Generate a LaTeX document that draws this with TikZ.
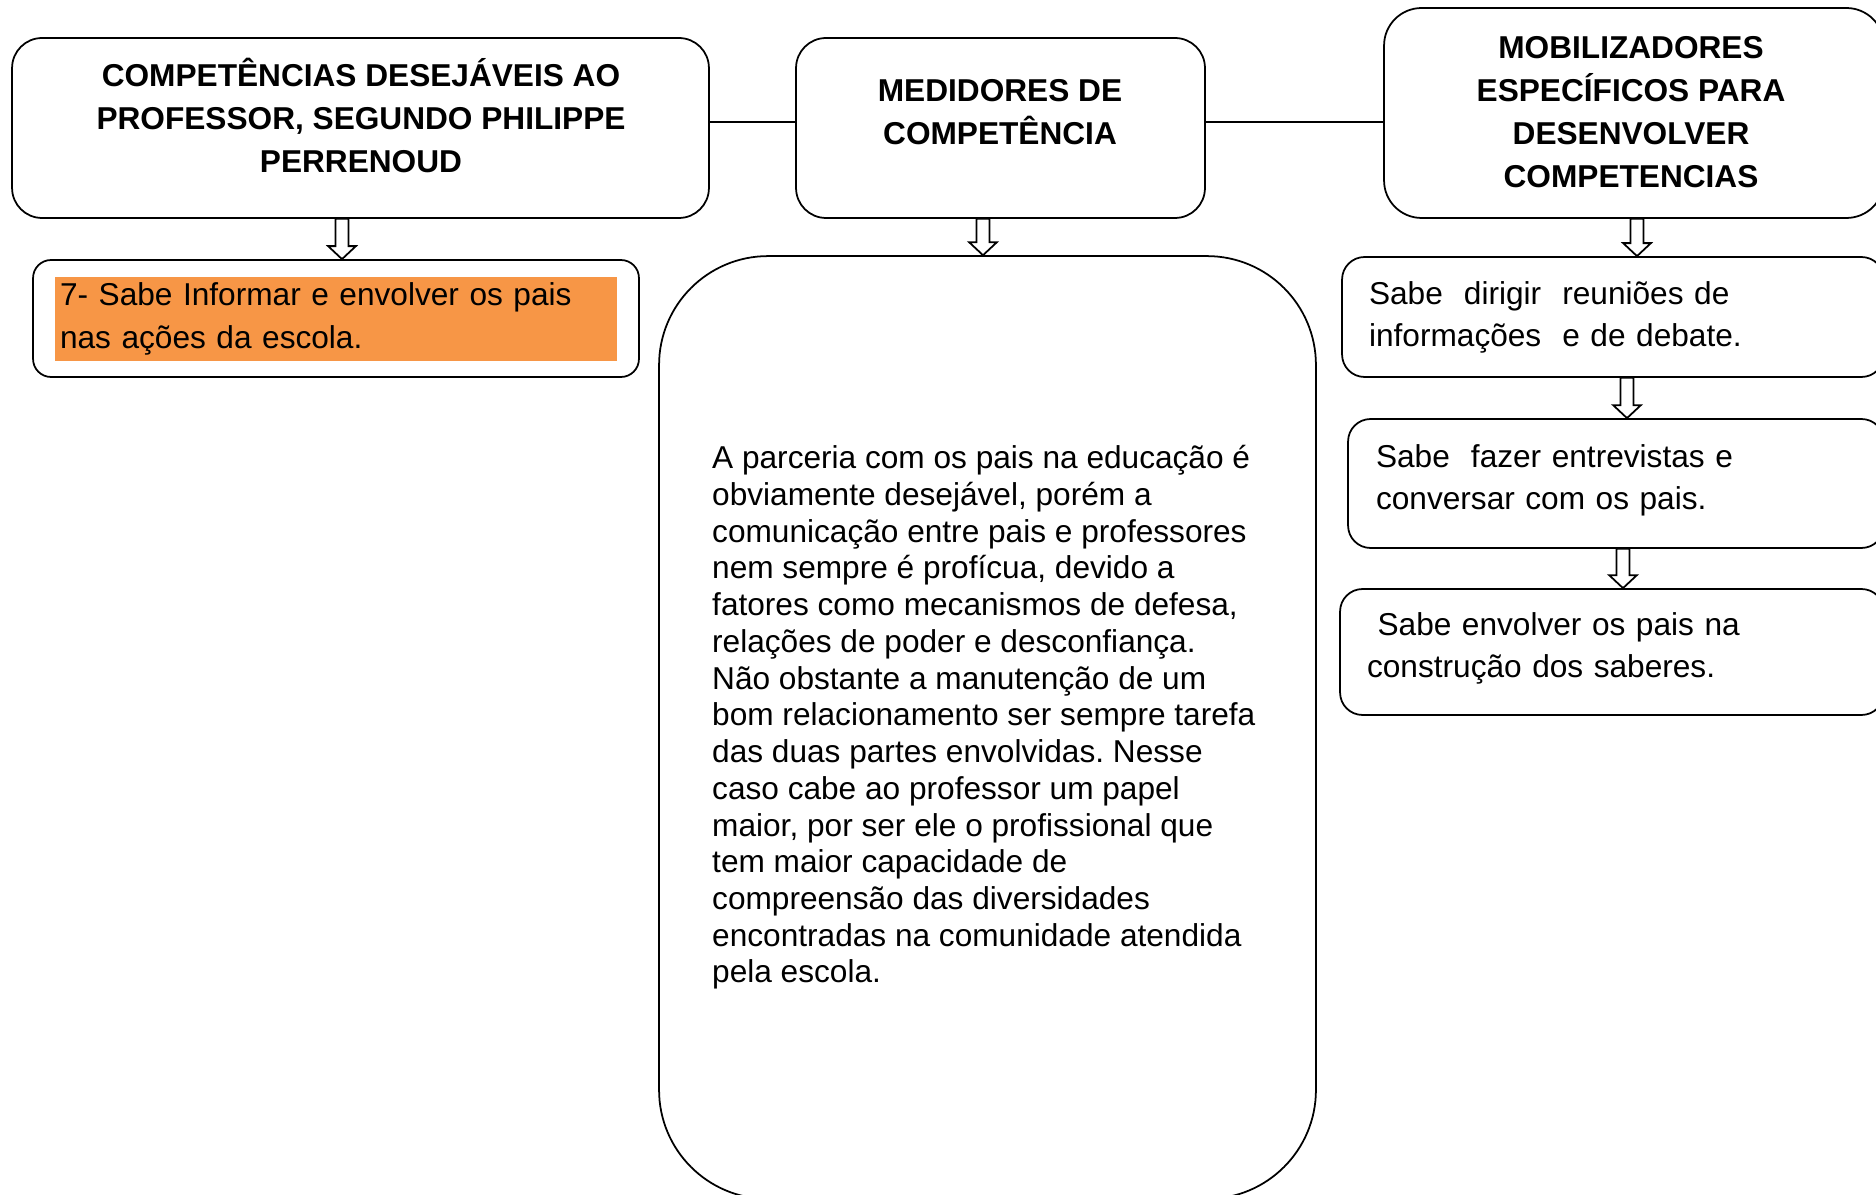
\documentclass[tikz,border=0pt]{standalone}
\usepackage{fontspec}
\setmainfont{Liberation Sans}
\usetikzlibrary{calc}
\frenchspacing

\definecolor{laranja}{RGB}{247,150,70}

\tikzset{
  caixa/.style={draw, line width=1pt, rounded corners=#1},
  caixa/.default=0.5cm,
  titulo/.style={font=\bfseries\fontsize{18}{24.4}\selectfont, align=center},
  texto/.style={font=\fontsize{18}{23.8}\selectfont, align=left},
  subir/.style={execute at end node={\par\vspace*{#1}}},
  seta/.style={draw, fill=white, line width=1pt},
}

% seta oca: x da seta, caixa de cima, caixa de baixo
\newcommand{\setaoca}[3]{%
  \draw[seta] let \p1=(#2.south), \p2=(#3.north), \p3=(#1,0) in
    (\x3-3.7pt,\y1) -- (\x3-3.7pt,\y2+7.4pt) -- (\x3-7.9pt,\y2+7.4pt) -- (\x3,\y2)
    -- (\x3+7.9pt,\y2+7.4pt) -- (\x3+3.7pt,\y2+7.4pt) -- (\x3+3.7pt,\y1) -- cycle;}

\begin{document}
\begin{tikzpicture}[x=0.02cm, y=-0.02cm]
	\useasboundingbox (0,0) rectangle (1876,1195);
	
	% Caixas do topo
	\node[caixa=0.6cm, minimum width=13.94cm, minimum height=3.6cm] (comp) at (360.5,128) {};
	\node[titulo] (comptxt) at (361,115.6) {COMPETÊNCIAS DESEJÁVEIS AO\\PROFESSOR, SEGUNDO PHILIPPE\\PERRENOUD};
	
	\node[caixa=0.6cm, minimum width=8.18cm, minimum height=3.6cm] (med) at (1000.5,128) {};
	\node[titulo] (medtxt) at (1000,112) {MEDIDORES DE\\COMPETÊNCIA};
	
	\node[caixa=0.75cm, minimum width=10cm, minimum height=4.2cm] (mob) at (1634,113) {};
	\node[titulo] (mobtxt) at (1631,112) {MOBILIZADORES\\ESPECÍFICOS PARA\\DESENVOLVER\\COMPETENCIAS};
	
	% Linhas entre as caixas do topo
	\coordinate (lig1) at ([yshift=0.12cm]comp.east);
	\draw[line width=1pt] (lig1) -- (lig1 -| med.west);
	\coordinate (lig2) at ([yshift=0.12cm]med.east);
	\draw[line width=1pt] (lig2) -- (lig2 -| mob.west);
	
	% Coluna da esquerda
	\node[caixa=0.36cm, minimum width=12.12cm, minimum height=2.34cm] (inform) at (336,318.5) {};
	\node[fill=laranja, texto, font=\fontsize{18}{24.4}\selectfont, minimum width=11.24cm, minimum height=1.68cm,
	      text width=11.04cm, inner xsep=0.1cm] (informtxt) at (336,319) {7- Sabe Informar e envolver os pais\\nas ações da escola.};
	
	% Coluna do meio
	\node[caixa=2.18cm, minimum width=13.14cm, minimum height=18.86cm] (parceria) at (987.5,727.5) {};
	\node[anchor=west, align=left, font=\fontsize{18}{20.9}\selectfont] (parceriatxt) at (706,717.5) {A parceria com os pais na educação é\\obviamente desejável, porém a\\comunicação entre pais e professores\\nem sempre é profícua, devido a\\fatores como mecanismos de defesa,\\relações de poder e desconfiança.\\Não obstante a manutenção de um\\bom relacionamento ser sempre tarefa\\das duas partes envolvidas. Nesse\\caso cabe ao professor um papel\\maior, por ser ele o profissional que\\tem maior capacidade de\\compreensão das diversidades\\encontradas na comunidade atendida\\pela escola.};
	
	% Coluna da direita
	\node[caixa=0.45cm, texto, minimum height=2.4cm, text width=9.76cm, inner xsep=0.54cm] (dirigir) at (1613,317) {Sabe\ \ dirigir\ \ reuniões de\\informações\ \ e de debate.};
	\node[caixa=0.45cm, texto, subir=4pt, minimum height=2.58cm, text width=9.6cm, inner xsep=0.56cm] (entrevistas) at (1616,483.5) {Sabe\ \ fazer entrevistas e\\conversar com os pais.};
	\node[caixa=0.45cm, texto, subir=4pt, minimum height=2.52cm, text width=9.8cm, inner xsep=0.54cm] (envolver) at (1612,652) {\ Sabe envolver os pais na\\construção dos saberes.};
	
	% Setas
	\setaoca{342}{comp}{inform}
	\setaoca{983}{med}{parceria}
	\setaoca{1637}{mob}{dirigir}
	\setaoca{1627}{dirigir}{entrevistas}
	\setaoca{1623}{entrevistas}{envolver}
\end{tikzpicture}
\end{document}
